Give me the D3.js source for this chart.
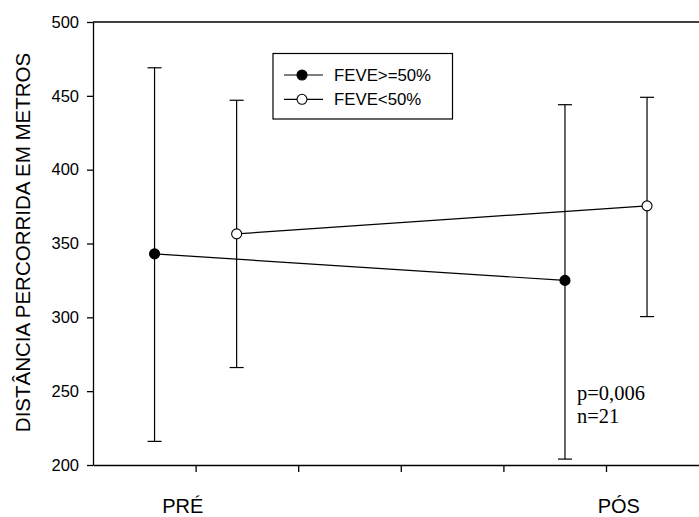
<!DOCTYPE html>
<html>
<head>
<meta charset="utf-8">
<script src="https://cdn.jsdelivr.net/npm/d3@7"></script>
<style>
  body { margin: 0; background: #fff; }
  svg { display: block; font-family: "Liberation Sans", Arial, sans-serif; }
</style>
</head>
<body>
<div id="chart"></div>
<script>
// Data
const times = ["PRÉ", "PÓS"];
const groups = ["FEVE>=50%", "FEVE<50%"];
const highMean = [343, 325];
const highLow = [216, 204];
const highUp = [469, 444];
const lowMean = [356.5, 375.5];
const lowLow = [266, 300.5];
const lowUp = [447, 449];
const yTicks = [200, 250, 300, 350, 400, 450, 500];
const xTicks = [1, 2, 3, 4, 5];
const statLines = ["p=0,006", "n=21"];

const W = 699, H = 517;
const margin = { top: 22, right: 0, bottom: 52, left: 93 };

const svg = d3.select("#chart").append("svg")
    .attr("width", W)
    .attr("height", H);

// x position of each time point on the hidden numeric axis
const timeX = d3.scaleOrdinal().domain(times).range([1, 5]);
const offset = 0.4;

const x = d3.scaleLinear()
    .domain([0, (W - margin.left) / 102.6])
    .range([margin.left, W - margin.right]);

const y = d3.scaleLinear()
    .domain([200, 500])
    .range([H - margin.bottom, margin.top]);

const series = [
    { name: groups[0], mean: highMean, lo: highLow, hi: highUp, dx: -offset, fill: "#000" },
    { name: groups[1], mean: lowMean, lo: lowLow, hi: lowUp, dx: offset, fill: "#fff" }
];

// top frame line
svg.append("line")
    .attr("x1", x.range()[0]).attr("x2", x.range()[1])
    .attr("y1", y(500)).attr("y2", y(500))
    .attr("stroke", "#000").attr("stroke-width", 1.3);

// axes
svg.append("g")
    .attr("class", "y-axis")
    .attr("transform", `translate(${margin.left},0)`)
    .call(d3.axisLeft(y).tickValues(yTicks).tickSize(6).tickPadding(8).tickSizeOuter(0));

svg.append("g")
    .attr("class", "x-axis")
    .attr("transform", `translate(0,${y(200)})`)
    .call(d3.axisBottom(x).tickValues(xTicks).tickSize(7).tickFormat("").tickSizeOuter(0));

svg.selectAll(".y-axis path, .x-axis path, .y-axis line, .x-axis line")
    .attr("stroke", "#000")
    .attr("stroke-width", 1.3);

svg.selectAll(".y-axis text")
    .attr("fill", "#000")
    .attr("font-size", "16.5px")
    .attr("font-family", "Liberation Sans, Arial, sans-serif");

// category labels
svg.selectAll(".cat")
    .data(times)
    .enter()
    .append("text")
    .attr("class", "cat")
    .attr("x", (d, i) => x(timeX(d) + (i === 0 ? -0.125 : 0.125)))
    .attr("y", 513)
    .attr("text-anchor", "middle")
    .attr("font-size", "20px")
    .attr("fill", "#000")
    .text(d => d);

// y-axis title
svg.append("text")
    .attr("transform", `translate(30,${(50 + 435) / 2}) rotate(-90)`)
    .attr("text-anchor", "middle")
    .attr("font-size", "20.5px")
    .attr("fill", "#000")
    .text("DISTÂNCIA PERCORRIDA EM METROS");

// series: connecting lines, error bars, markers
series.forEach(s => {
    const pts = times.map((t, i) => ({
        x: x(timeX(t) + s.dx),
        m: y(s.mean[i]),
        lo: y(s.lo[i]),
        hi: y(s.hi[i])
    }));

    svg.append("path")
        .attr("d", d3.line().x(d => d.x).y(d => d.m)(pts))
        .attr("fill", "none")
        .attr("stroke", "#000")
        .attr("stroke-width", 1.2);

    const eb = svg.append("g").selectAll("g")
        .data(pts)
        .enter()
        .append("g");

    eb.append("line")
        .attr("x1", d => d.x).attr("x2", d => d.x)
        .attr("y1", d => d.lo).attr("y2", d => d.hi)
        .attr("stroke", "#000").attr("stroke-width", 1.2);
    eb.append("line")
        .attr("x1", d => d.x - 7).attr("x2", d => d.x + 7)
        .attr("y1", d => d.lo).attr("y2", d => d.lo)
        .attr("stroke", "#000").attr("stroke-width", 1.2);
    eb.append("line")
        .attr("x1", d => d.x - 7).attr("x2", d => d.x + 7)
        .attr("y1", d => d.hi).attr("y2", d => d.hi)
        .attr("stroke", "#000").attr("stroke-width", 1.2);

    svg.append("g").selectAll("circle")
        .data(pts)
        .enter()
        .append("circle")
        .attr("cx", d => d.x)
        .attr("cy", d => d.m)
        .attr("r", 5)
        .attr("fill", s.fill)
        .attr("stroke", "#000")
        .attr("stroke-width", 1.1);
});

// legend
const legend = svg.append("g").attr("transform", "translate(273,53.5)");
legend.append("rect")
    .attr("width", 179.5)
    .attr("height", 65.5)
    .attr("fill", "#fff")
    .attr("stroke", "#000")
    .attr("stroke-width", 1.2);

const item = legend.selectAll(".item")
    .data(series)
    .enter()
    .append("g")
    .attr("class", "item")
    .attr("transform", (d, i) => `translate(0,${21.5 + i * 24.3})`);

item.append("line")
    .attr("x1", 11).attr("x2", 50)
    .attr("stroke", "#000").attr("stroke-width", 1.2);
item.append("circle")
    .attr("cx", 29).attr("r", 5)
    .attr("fill", d => d.fill)
    .attr("stroke", "#000").attr("stroke-width", 1.1);
item.append("text")
    .attr("x", 61)
    .attr("dy", "0.36em")
    .attr("font-size", "16.8px")
    .attr("fill", "#000")
    .text(d => d.name);

// statistics note
svg.append("g").selectAll("text")
    .data(statLines)
    .enter()
    .append("text")
    .attr("x", 577)
    .attr("y", (d, i) => 400 + i * 22.7)
    .attr("font-family", "Liberation Serif, 'Times New Roman', serif")
    .attr("font-size", "20.5px")
    .attr("fill", "#000")
    .text(d => d);
</script>
</body>
</html>
